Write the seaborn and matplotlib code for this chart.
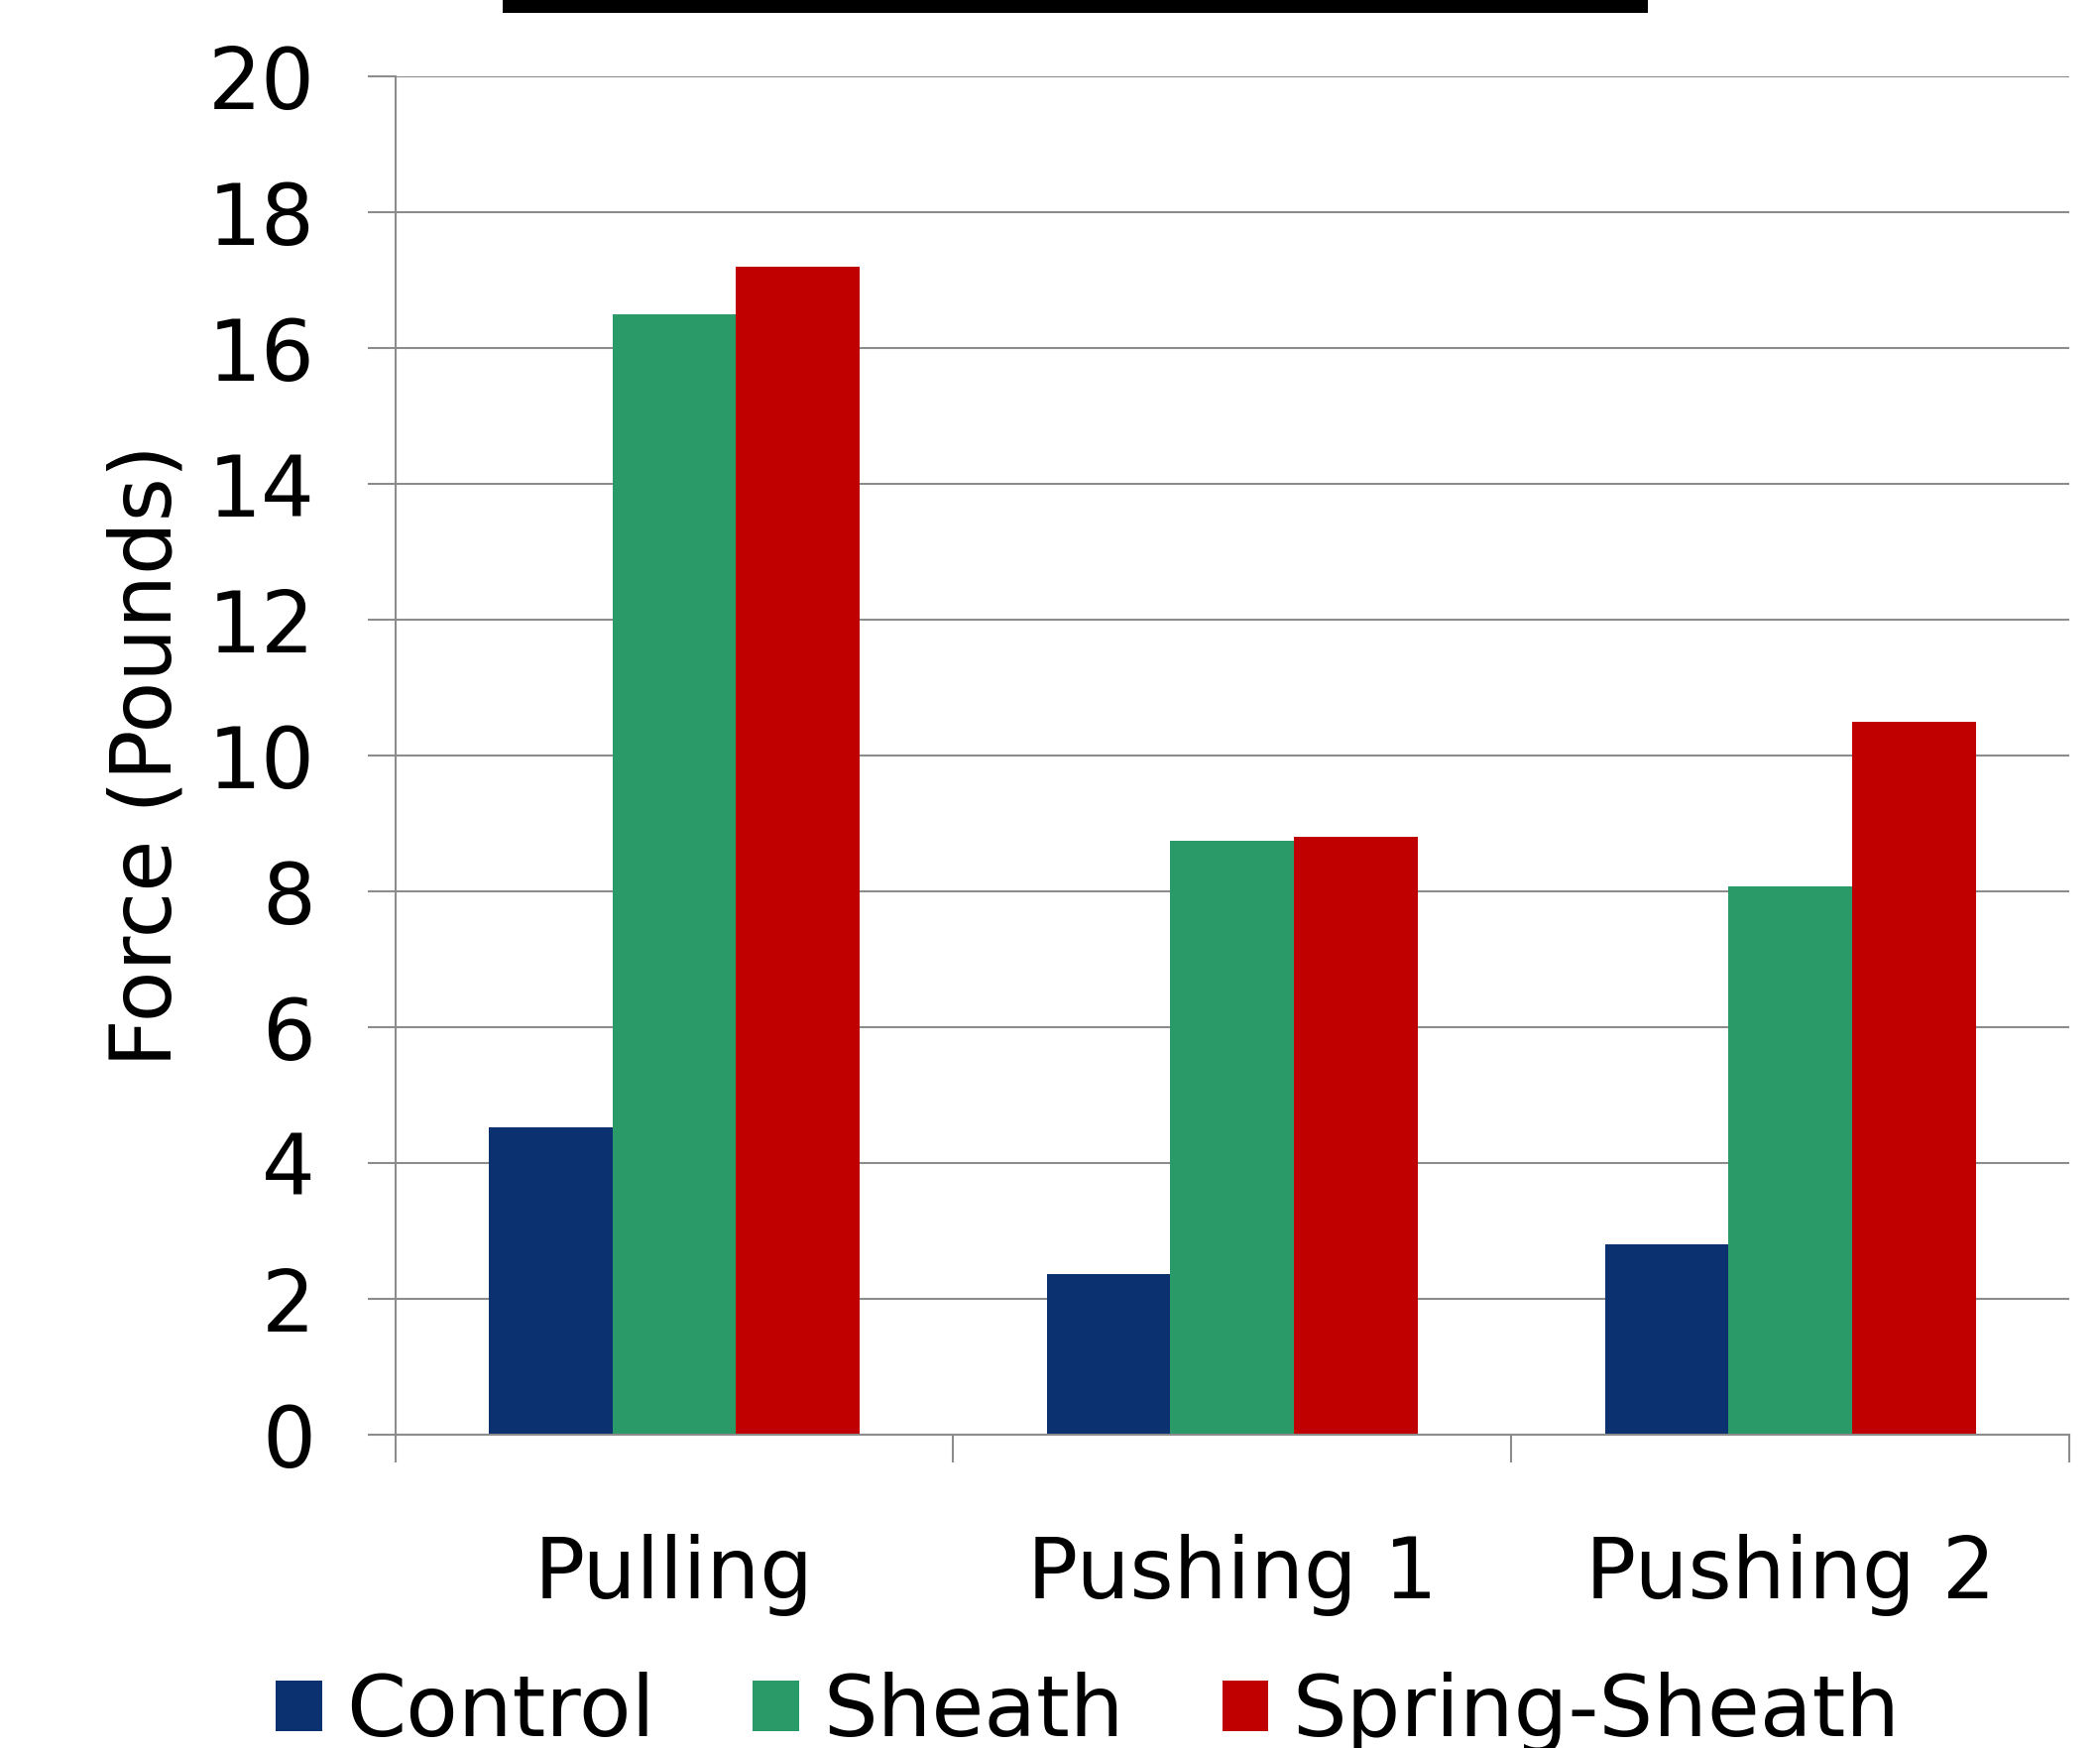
import numpy as np
import pandas as pd
import matplotlib
matplotlib.use("Agg")
import matplotlib.pyplot as plt
import seaborn as sns
from matplotlib.patches import Rectangle

# Force measurements per task and device
tasks = ["Pulling", "Pushing 1", "Pushing 2"]
groups = ["Control", "Sheath", "Spring-Sheath"]
control = [4.52, 2.37, 2.80]
sheath = [16.49, 8.74, 8.07]
spring_sheath = [17.20, 8.80, 10.49]
colors = ["#0B3170", "#2A9A68", "#C00000"]
yticks = list(range(0, 21, 2))

df = pd.DataFrame({
    "Task": tasks * 3,
    "Group": np.repeat(groups, len(tasks)),
    "Force": control + sheath + spring_sheath,
})

sns.set_theme(style="white")
plt.rcParams["font.family"] = ["DejaVu Sans"]
plt.rcParams["text.color"] = "black"

GRID = "#8C8C8C"
FS = 61

fig = plt.figure(figsize=(21.18, 17.63), dpi=100)
ax = fig.add_axes([0.1882, 0.1792, 0.7972, 0.7771])

sns.barplot(
    data=df, x="Task", y="Force", hue="Group",
    order=tasks, hue_order=groups,
    palette=dict(zip(groups, colors)), saturation=1,
    width=0.665, linewidth=0, errorbar=None, ax=ax,
)

handles, labels = ax.get_legend_handles_labels()
ax.get_legend().remove()

ax.set_xlim(-0.5, 2.5)
ax.set_ylim(0, 20)
ax.set_yticks(yticks)
ax.set_yticklabels([str(v) for v in yticks])
ax.yaxis.grid(True, color=GRID, linewidth=1.5)
ax.xaxis.grid(False)
ax.set_axisbelow(True)

for side in ("top", "right"):
    ax.spines[side].set_visible(False)
for side in ("left", "bottom"):
    ax.spines[side].set_color(GRID)
    ax.spines[side].set_linewidth(1.5)

ax.tick_params(axis="y", left=True, length=20, width=1.5, color=GRID,
               labelsize=FS, pad=38, labelcolor="black")

# category boundaries carry the tick marks, category centers the labels
ax.set_xticks([-0.5, 0.5, 1.5, 2.5])
ax.set_xticklabels([""] * 4)
ax.set_xticks([0, 1, 2], minor=True)
ax.set_xticklabels(tasks, minor=True)
ax.tick_params(axis="x", which="major", bottom=True, length=20, width=1.5,
               color=GRID)
ax.tick_params(axis="x", which="minor", bottom=True, length=0,
               labelsize=FS, pad=72, labelcolor="black")

ax.set_xlabel("")
ax.set_ylabel("Force (Pounds)", fontsize=FS, color="black")
ax.yaxis.set_label_coords(-0.1235, 0.5)

fig.legend(
    handles, labels, loc="center", bbox_to_anchor=(0.518, 0.020),
    ncol=3, frameon=False, fontsize=62, labelcolor="black",
    handlelength=0.54, handleheight=0.54, handletextpad=0.28,
    columnspacing=1.15,
)

# underline of the heading above the plot
fig.add_artist(Rectangle((507 / 2118, 1 - 13 / 1763), (1662 - 507) / 2118,
                         13 / 1763, transform=fig.transFigure,
                         color="black", linewidth=0))

fig.savefig("out.png", dpi=100)
